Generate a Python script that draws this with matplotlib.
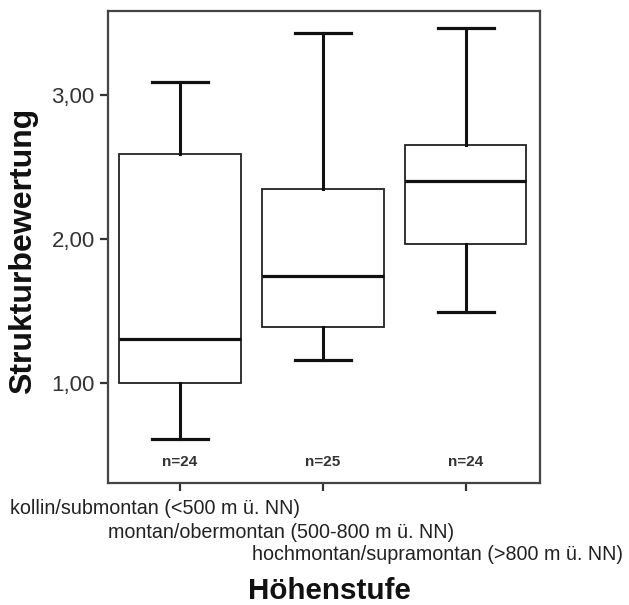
import matplotlib

matplotlib.use("Agg")

import matplotlib.pyplot as plt

# summary statistics
categories = [
    "kollin/submontan (<500 m ü. NN)",
    "montan/obermontan (500-800 m ü. NN)",
    "hochmontan/supramontan (>800 m ü. NN)",
]
whisker_low = [0.61, 1.16, 1.49]
q1 = [1.00, 1.39, 1.965]
median = [1.305, 1.745, 2.40]
q3 = [2.59, 2.35, 2.655]
whisker_high = [3.09, 3.43, 3.465]
n_counts = [24, 25, 24]
y_ticks = [1, 2, 3]
y_tick_labels = ["1,00", "2,00", "3,00"]


def main() -> None:
    plt.rcParams["font.family"] = ["Liberation Sans", "DejaVu Sans"]

    fig = plt.figure(figsize=(6.29, 6.05), dpi=100)
    W, H = 629, 605
    left, right, top, bottom = 108, 540, 11, 483
    ax = fig.add_axes([left / W, 1 - bottom / H, (right - left) / W, (bottom - top) / H])

    stats = []
    for i in range(len(categories)):
        stats.append({
            "whislo": whisker_low[i], "q1": q1[i], "med": median[i],
            "q3": q3[i], "whishi": whisker_high[i], "fliers": [],
        })
    positions = list(range(1, len(categories) + 1))
    ax.bxp(
        stats, positions=positions, widths=0.85, capwidths=[0.39] * len(stats),
        patch_artist=True, showfliers=False,
        boxprops=dict(facecolor="white", edgecolor="#222222", linewidth=1.3),
        medianprops=dict(color="#111111", linewidth=2.3),
        whiskerprops=dict(color="#111111", linewidth=2.2),
        capprops=dict(color="#111111", linewidth=2.3),
    )

    ax.set_xlim(0.497, 3.52)
    ax.set_ylim(0.306, 3.583)
    ax.set_yticks(y_ticks)
    ax.set_yticklabels(y_tick_labels, fontsize=16, color="#333333")
    ax.set_xticks(positions)
    ax.set_xticklabels([])
    ax.tick_params(axis="both", length=6, width=1.6, color="#333333")
    for sp in ax.spines.values():
        sp.set_linewidth(1.6)
        sp.set_color("#444444")

    for pos, n in zip(positions, n_counts):
        ax.text(pos, 0.452, f"n={n}", ha="center", va="center",
                fontsize=11, fontweight="bold", color="#333333")

    # staggered category labels as in the SPSS original
    label_x = [10, 108, 252]
    label_y = [509, 532, 555]
    for text, lx, ly in zip(categories, label_x, label_y):
        fig.text(lx / W, 1 - ly / H, text, ha="left", va="center",
                 fontsize=14.2, color="#222222")

    fig.text(329 / W, 1 - 591 / H, "Höhenstufe", ha="center", va="center",
             fontsize=21.3, fontweight="bold", color="#111111")
    fig.text(23 / W, 1 - 251 / H, "Strukturbewertung", ha="center", va="center",
             rotation=90, fontsize=23, fontweight="bold", color="#111111")

    fig.savefig("out.png", dpi=100)
    plt.close(fig)


if __name__ == "__main__":
    main()
